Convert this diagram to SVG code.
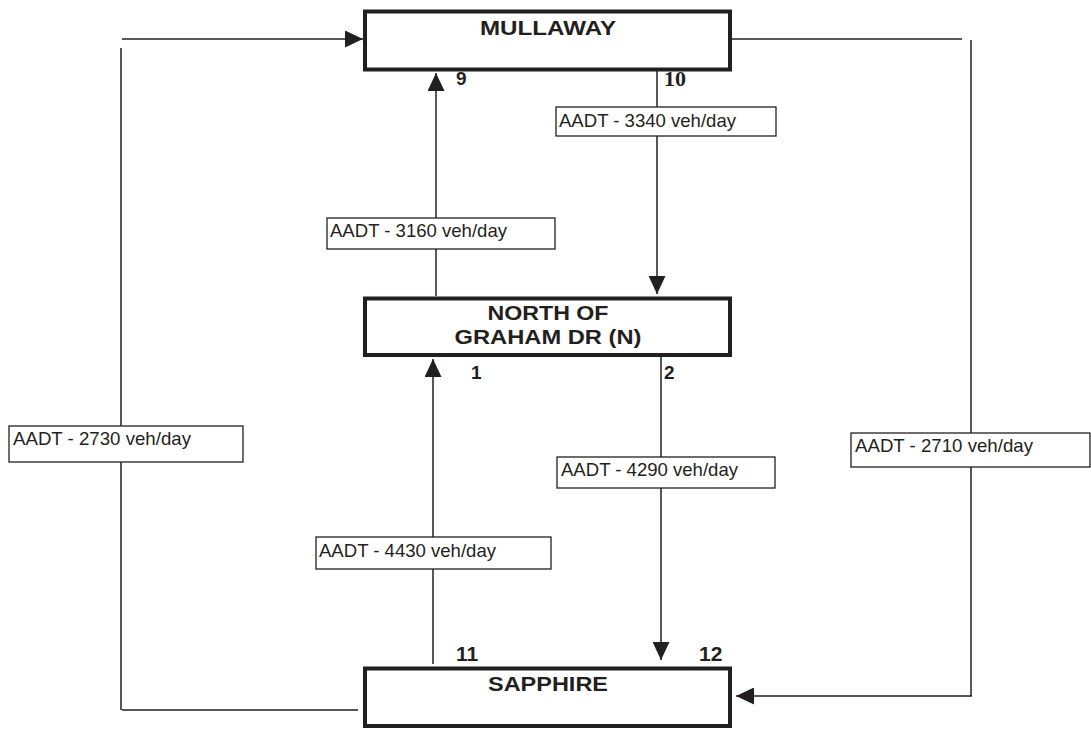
<svg xmlns="http://www.w3.org/2000/svg" width="1091" height="729" viewBox="0 0 1091 729">
<style>
.node{fill:#fff;stroke:#231f20;stroke-width:4}
.nt{font-family:"Liberation Sans",Arial,sans-serif;font-weight:bold;font-size:21px;fill:#231f20;text-anchor:middle}
.num{font-family:"Liberation Sans",Arial,sans-serif;font-weight:bold;fill:#231f20}
.numt{font-family:"Liberation Serif","Times New Roman",serif;font-weight:bold;fill:#231f20}
.ln{stroke:#231f20;stroke-width:1.5;fill:none}
.lbl{fill:#fff;stroke:#231f20;stroke-width:1.3}
.lt{font-family:"Liberation Sans",Arial,sans-serif;font-size:19px;fill:#231f20}
</style>
<defs>
<marker id="ah" markerUnits="userSpaceOnUse" markerWidth="18" markerHeight="17" refX="18" refY="8.5" orient="auto">
<path d="M0,0 L18,8.5 L0,17 z" fill="#231f20"/>
</marker>
</defs>
<rect width="1091" height="729" fill="#fff"/>
<g id="connectors">
<line class="ln" x1="358" y1="710" x2="122" y2="710"/>
<line class="ln" x1="121" y1="710" x2="121" y2="48"/>
<line class="ln" x1="122" y1="39" x2="363" y2="39" marker-end="url(#ah)"/>
<line class="ln" x1="732" y1="39" x2="962" y2="39"/>
<line class="ln" x1="971" y1="40" x2="971" y2="696"/>
<line class="ln" x1="972" y1="696" x2="736" y2="696" marker-end="url(#ah)"/>
<line class="ln" x1="657" y1="70" x2="657" y2="294" marker-end="url(#ah)"/>
<line class="ln" x1="436" y1="296" x2="436" y2="73" marker-end="url(#ah)"/>
<line class="ln" x1="661" y1="357" x2="661" y2="660" marker-end="url(#ah)"/>
<line class="ln" x1="433" y1="664" x2="433" y2="359" marker-end="url(#ah)"/>
</g>
<g id="labels">
<g id="lbl-3340"><rect class="lbl" x="556" y="107" width="220" height="29"/><text class="lt" x="559" y="127" textLength="177" lengthAdjust="spacingAndGlyphs">AADT - 3340 veh/day</text></g>
<g id="lbl-3160"><rect class="lbl" x="327" y="218" width="228" height="31"/><text class="lt" x="330" y="237" textLength="177" lengthAdjust="spacingAndGlyphs">AADT - 3160 veh/day</text></g>
<g id="lbl-2730"><rect class="lbl" x="9" y="426" width="234" height="36"/><text class="lt" x="13" y="445" textLength="178" lengthAdjust="spacingAndGlyphs">AADT - 2730 veh/day</text></g>
<g id="lbl-2710"><rect class="lbl" x="851" y="433" width="239" height="34"/><text class="lt" x="855" y="452" textLength="178" lengthAdjust="spacingAndGlyphs">AADT - 2710 veh/day</text></g>
<g id="lbl-4290"><rect class="lbl" x="557" y="457" width="218" height="31"/><text class="lt" x="561" y="476" textLength="177" lengthAdjust="spacingAndGlyphs">AADT - 4290 veh/day</text></g>
<g id="lbl-4430"><rect class="lbl" x="316" y="537" width="235" height="32"/><text class="lt" x="319" y="557" textLength="177" lengthAdjust="spacingAndGlyphs">AADT - 4430 veh/day</text></g>
</g>
<g id="node-mullaway">
<rect class="node" x="365" y="11.5" width="365" height="58"/>
<text class="nt" x="548" y="35" textLength="136" lengthAdjust="spacingAndGlyphs">MULLAWAY</text>
</g>
<g id="node-north-graham">
<rect class="node" x="365" y="298.5" width="365" height="56.5"/>
<text class="nt" x="548" y="320" textLength="121" lengthAdjust="spacingAndGlyphs">NORTH OF</text>
<text class="nt" x="548" y="344" textLength="187" lengthAdjust="spacingAndGlyphs">GRAHAM DR (N)</text>
</g>
<g id="node-sapphire">
<rect class="node" x="365" y="668.5" width="365" height="57.5"/>
<text class="nt" x="548" y="691" textLength="120" lengthAdjust="spacingAndGlyphs">SAPPHIRE</text>
</g>
<g id="numbers">
<text class="num" x="456" y="85" font-size="19">9</text>
<text class="numt" x="664" y="86" font-size="22">10</text>
<text class="num" x="471" y="379" font-size="19">1</text>
<text class="num" x="664" y="379" font-size="19">2</text>
<text class="num" x="456" y="661" font-size="21">11</text>
<text class="num" x="699" y="661" font-size="21">12</text>
</g>
</svg>
